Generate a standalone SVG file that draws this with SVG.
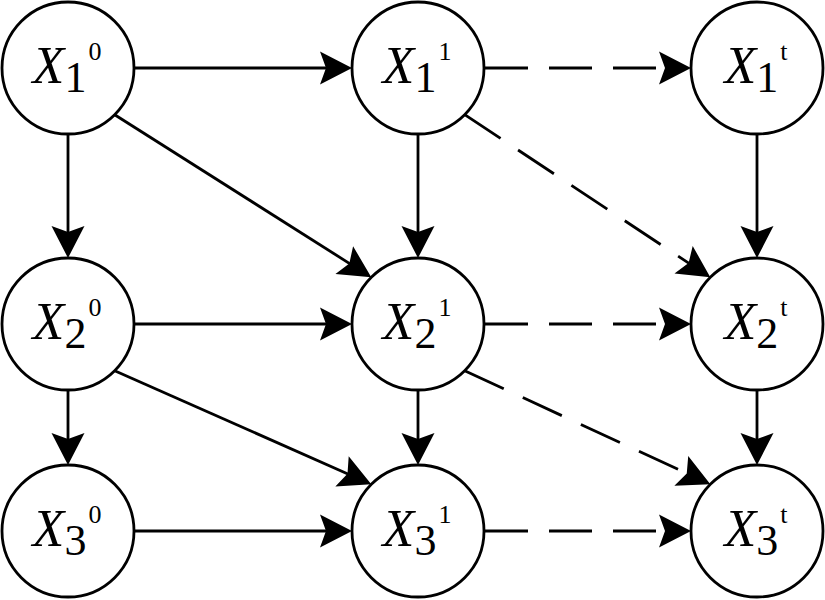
<svg xmlns="http://www.w3.org/2000/svg" width="825" height="600" viewBox="0 0 825 600">
<style>
.node circle{fill:#fff;stroke:#000;stroke-width:2.8}
text{font-family:'Liberation Serif','DejaVu Serif',serif;fill:#000}
.x{font-style:italic;font-size:52px}
.sub{font-size:44px}
.sup{font-size:26px}
.e{stroke:#000;stroke-width:2.8;fill:none;marker-end:url(#ah)}
.d{stroke-dasharray:43 21}
</style>
<defs>
<marker id="ah" markerUnits="userSpaceOnUse" viewBox="-13 -18 36 36" markerWidth="36" markerHeight="36" refX="0" refY="0" orient="auto">
<path d="M20,0 L-12,-16.5 L-6,0 L-12,16.5 Z" fill="#000"/>
</marker>
</defs>
<rect width="825" height="600" fill="#fff"/>
<g id="connectors">
<line class="e" x1="135" y1="68" x2="332" y2="68"/>
<line class="e d" x1="485" y1="68" x2="671" y2="68"/>
<line class="e" x1="135" y1="324" x2="332" y2="324"/>
<line class="e d" x1="485" y1="324" x2="671" y2="324"/>
<line class="e" x1="135" y1="531" x2="332" y2="531"/>
<line class="e d" x1="485" y1="531" x2="671" y2="531"/>
<line class="e" x1="68" y1="135" x2="68" y2="238"/>
<line class="e" x1="418" y1="135" x2="418" y2="238"/>
<line class="e" x1="757" y1="135" x2="757" y2="238"/>
<line class="e" x1="68" y1="391" x2="68" y2="445"/>
<line class="e" x1="418" y1="391" x2="418" y2="445"/>
<line class="e" x1="757" y1="391" x2="757" y2="445"/>
<line class="e" x1="114.7" y1="114.7" x2="354.4" y2="266.6"/>
<line class="e d" x1="464.7" y1="114.7" x2="693.6" y2="266.3"/>
<line class="e" x1="114.7" y1="370.7" x2="353.0" y2="476.2"/>
<line class="e d" x1="464.7" y1="370.7" x2="692.2" y2="475.9"/>
</g>
<g id="n10" class="node"><circle cx="68" cy="68" r="66"/><text font-family="Liberation Serif" x="67" y="83" text-anchor="middle"><tspan class="x">X</tspan><tspan class="sub" dy="9">1</tspan><tspan class="sup" dx="2" dy="-32">0</tspan></text></g>
<g id="n11" class="node"><circle cx="418" cy="68" r="66"/><text font-family="Liberation Serif" x="417" y="83" text-anchor="middle"><tspan class="x">X</tspan><tspan class="sub" dy="9">1</tspan><tspan class="sup" dx="2" dy="-32">1</tspan></text></g>
<g id="n1t" class="node"><circle cx="757" cy="68" r="66"/><text font-family="Liberation Serif" x="756" y="83" text-anchor="middle"><tspan class="x">X</tspan><tspan class="sub" dy="9">1</tspan><tspan class="sup" dx="2" dy="-32">t</tspan></text></g>
<g id="n20" class="node"><circle cx="68" cy="324" r="66"/><text font-family="Liberation Serif" x="67" y="339" text-anchor="middle"><tspan class="x">X</tspan><tspan class="sub" dy="9">2</tspan><tspan class="sup" dx="2" dy="-32">0</tspan></text></g>
<g id="n21" class="node"><circle cx="418" cy="324" r="66"/><text font-family="Liberation Serif" x="417" y="339" text-anchor="middle"><tspan class="x">X</tspan><tspan class="sub" dy="9">2</tspan><tspan class="sup" dx="2" dy="-32">1</tspan></text></g>
<g id="n2t" class="node"><circle cx="757" cy="324" r="66"/><text font-family="Liberation Serif" x="756" y="339" text-anchor="middle"><tspan class="x">X</tspan><tspan class="sub" dy="9">2</tspan><tspan class="sup" dx="2" dy="-32">t</tspan></text></g>
<g id="n30" class="node"><circle cx="68" cy="531" r="66"/><text font-family="Liberation Serif" x="67" y="546" text-anchor="middle"><tspan class="x">X</tspan><tspan class="sub" dy="9">3</tspan><tspan class="sup" dx="2" dy="-32">0</tspan></text></g>
<g id="n31" class="node"><circle cx="418" cy="531" r="66"/><text font-family="Liberation Serif" x="417" y="546" text-anchor="middle"><tspan class="x">X</tspan><tspan class="sub" dy="9">3</tspan><tspan class="sup" dx="2" dy="-32">1</tspan></text></g>
<g id="n3t" class="node"><circle cx="757" cy="531" r="66"/><text font-family="Liberation Serif" x="756" y="546" text-anchor="middle"><tspan class="x">X</tspan><tspan class="sub" dy="9">3</tspan><tspan class="sup" dx="2" dy="-32">t</tspan></text></g>
</svg>
